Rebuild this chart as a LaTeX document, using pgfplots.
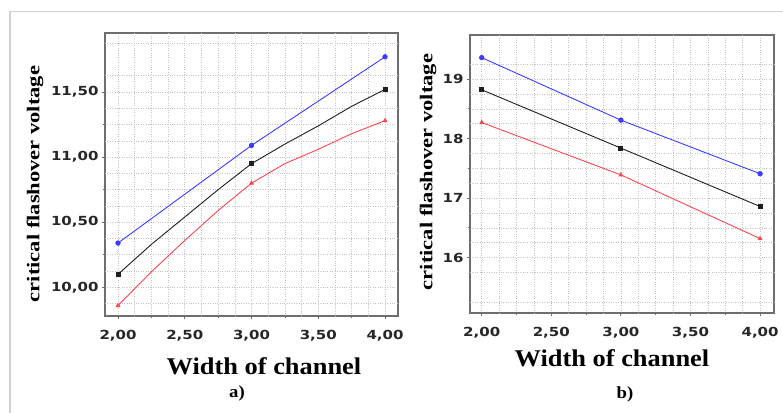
\documentclass[border=0pt]{standalone}
\usepackage{pgfplots}
\pgfplotsset{compat=1.18}
\usepackage{fontspec}
\setmainfont{Liberation Serif}
\newfontfamily\tickfont[FakeStretch=1.2]{DejaVu Sans}
\newfontfamily\labfont[FakeStretch=1.1]{Liberation Serif}
\newfontfamily\ylabfont[FakeStretch=1.25]{Liberation Serif}
\definecolor{cblue}{RGB}{60,60,255}
\definecolor{cred}{RGB}{250,70,80}
\definecolor{cblack}{RGB}{30,30,30}
\definecolor{frame}{RGB}{110,110,110}
\definecolor{gridc}{RGB}{195,195,195}
\pgfplotsset{
  common/.style={
    scale only axis,
    anchor=south west,
    axis line style={frame, line width=1.2bp},
    tick style={frame, line width=0.8bp},
    tick align=outside,
    major tick length=3bp,
    minor tick length=2bp,
    xtick pos=bottom, ytick pos=left,
    /pgf/number format/assume math mode=true,
    tick label style={font=\tickfont\bfseries\fontsize{12.5bp}{14bp}\selectfont, text=black!85},
    xticklabel style={yshift=-8bp, /pgf/number format/.cd, fixed, fixed zerofill, precision=2, use comma},
    xtick={2,2.5,3,3.5,4},
    minor x tick num=1,
    grid=both,
    major grid style={gridc, dotted, line width=0.6bp},
    minor grid style={gridc, dotted, line width=0.6bp},
    extra x ticks={2.125,2.375,2.625,2.875,3.125,3.375,3.625,3.875},
    extra x tick labels={},
    extra x tick style={major tick length=0pt, grid=major},
  },
  sb/.style={cblue, line width=0.9bp, mark=*, mark size=2.2bp, mark options={fill=cblue, draw=cblue}},
  sk/.style={cblack, line width=0.9bp, mark=square*, mark size=2bp, mark options={fill=cblack, draw=cblack}},
  sr/.style={cred, line width=0.9bp, mark=triangle*, mark size=2bp, mark options={fill=cred, draw=cred}},
}
\begin{document}
\begin{tikzpicture}
\useasboundingbox (0,0) rectangle (783bp,-413bp);
\draw[black!18, line width=1.2bp] (10bp,-413bp) -- (10bp,-11.5bp) -- (783bp,-11.5bp);
% ---------- a)
\begin{axis}[common,
  at={(105bp,-316bp)}, width=293bp, height=283bp,
  xmin=1.9026, xmax=4.097, ymin=9.780, ymax=11.953,
  ytick={10,10.5,11,11.5},
  minor y tick num=1,
  yticklabel style={/pgf/number format/.cd, fixed, fixed zerofill, precision=2, use comma},
  extra y ticks={9.875,10.125,10.375,10.625,10.875,11.125,11.375,11.625,11.875},
  extra y tick labels={},
  extra y tick style={major tick length=0pt, grid=major},
]
\addplot[sb] coordinates {(2,10.34) (3,11.09) (4,11.77)};
\addplot[sk, mark indices={1,5,9}] coordinates {
  (2,10.10) (2.25,10.33) (2.5,10.54) (2.75,10.75) (3,10.95)
  (3.25,11.10) (3.5,11.24) (3.75,11.39) (4,11.52)};
\addplot[sr, mark indices={1,5,9}] coordinates {
  (2,9.86) (2.25,10.12) (2.5,10.36) (2.75,10.59) (3,10.80)
  (3.25,10.95) (3.5,11.06) (3.75,11.18) (4,11.28)};
\end{axis}
% ---------- b)
\begin{axis}[common,
  at={(470bp,-313bp)}, width=304bp, height=278bp,
  xmin=1.916, xmax=4.10, ymin=15.07, ymax=19.74,
  ytick={16,17,18,19},
  minor y tick num=1,
  yticklabel style={/pgf/number format/.cd, fixed, precision=0},
  extra y ticks={15.25,15.75,16.25,16.75,17.25,17.75,18.25,18.75,19.25},
  extra y tick labels={},
  extra y tick style={major tick length=0pt, grid=major},
]
\addplot[sb] coordinates {(2,19.36) (3,18.31) (4,17.41)};
\addplot[sk] coordinates {(2,18.82) (3,17.84) (4,16.86)};
\addplot[sr] coordinates {(2,18.27) (3,17.39) (4,16.32)};
\end{axis}
% labels
\node[font=\labfont\bfseries\fontsize{24bp}{28bp}\selectfont, anchor=base] at (264bp,-374bp) {Width of channel};
\node[font=\labfont\bfseries\fontsize{24bp}{28bp}\selectfont, anchor=base] at (612bp,-366bp) {Width of channel};
\node[font=\ylabfont\bfseries\fontsize{18bp}{20bp}\selectfont, rotate=90] at (35bp,-184bp) {critical flashover voltage};
\node[font=\ylabfont\bfseries\fontsize{18bp}{20bp}\selectfont, rotate=90] at (428bp,-172bp) {critical flashover voltage};
\node[font=\labfont\bfseries\fontsize{17bp}{20bp}\selectfont] at (237bp,-393bp) {a)};
\node[font=\labfont\bfseries\fontsize{17bp}{20bp}\selectfont] at (625bp,-394bp) {b)};
\end{tikzpicture}
\end{document}
